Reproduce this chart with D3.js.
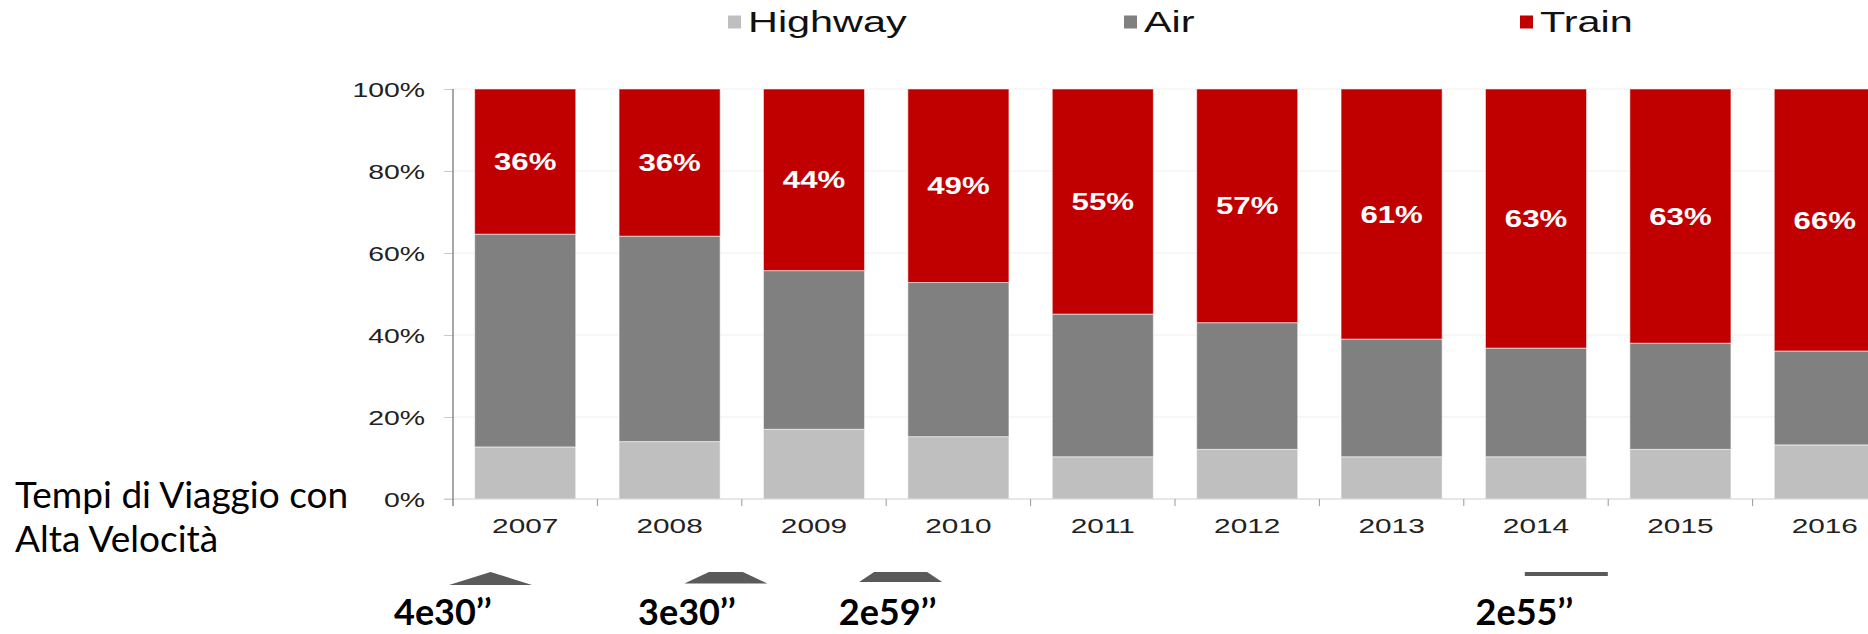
<!DOCTYPE html>
<html lang="it">
<head>
  <meta charset="UTF-8">
  <title>Highway / Air / Train</title>
  <script src="https://d3js.org/d3.v7.min.js"></script>
  <style>
    body { margin: 0; background: #fff; }
    svg text { font-family: Arial, "Liberation Sans", sans-serif; }
    svg text.note { font-family: Lato, "Open Sans", sans-serif; }
  </style>
</head>
<body>
  <svg id="chart" width="1868" height="634"></svg>

  <script>
    const years = ["2007", "2008", "2009", "2010", "2011", "2012", "2013", "2014", "2015", "2016"];
    const highway = [12.7, 14.0, 17.0, 15.2, 10.3, 12.1, 10.3, 10.3, 12.1, 13.2];
    const air     = [51.9, 50.1, 38.7, 37.6, 34.8, 30.9, 28.7, 26.5, 25.9, 22.9];
    const train   = [35.4, 35.9, 44.3, 47.2, 54.9, 57.0, 61.0, 63.2, 62.0, 63.9];
    const trainLabels = ["36%", "36%", "44%", "49%", "55%", "57%", "61%", "63%", "63%", "66%"];
    const yTicks = [0, 20, 40, 60, 80, 100];
    const seriesNames = ["Highway", "Air", "Train"];

    // travel times with high speed, placed in "year" units along the x axis
    const noteTimes = ["4e30’’", "3e30’’", "2e59’’", "2e55’’"];
    const noteAt  = [2006.43, 2008.12, 2009.51, 2013.92];
    const slopeAt = [2006.76, 2008.39, 2009.6, 2014.21];

    // look of the little slope icons (px)
    const slopeTop = [0, 34, 53, 83];
    const slopeH = [13, 11.5, 10, 4];

    const colors = { Highway: "#bfbfbf", Air: "#808080", Train: "#c00000" };
    const SX = 1.42; // the chart picture is stretched sideways

    const W = 1868, H = 634;
    const svg = d3.select("#chart");
    svg.append("rect").attr("width", W).attr("height", H).attr("fill", "#fff");

    const x = d3.scaleBand()
      .domain(years)
      .range([453, 453 + 144.4 * years.length])
      .paddingInner(0.3)
      .paddingOuter(0.15);
    const y = d3.scaleLinear().domain([0, 100]).range([499, 89]);
    const mid = d => x(d) + x.bandwidth() / 2;
    const xYear = d3.scaleLinear()
      .domain([+years[0], +years[years.length - 1]])
      .range([mid(years[0]), mid(years[years.length - 1])]);

    function squash(sel, sx) {
      sel.each(function() {
        const t = d3.select(this);
        const tx = +t.attr("x") || 0;
        const ty = +t.attr("y") || 0;
        t.attr("x", 0).attr("y", 0).attr("transform", `translate(${tx},${ty}) scale(${sx},1)`);
      });
    }

    // grid
    svg.append("g").selectAll("line")
      .data(yTicks.filter(d => d > 0))
      .join("line")
      .attr("x1", 453).attr("x2", W)
      .attr("y1", d => y(d)).attr("y2", d => y(d))
      .attr("stroke", "#efefef");

    // y axis
    const yAxis = svg.append("g")
      .attr("transform", "translate(453,0)")
      .call(d3.axisLeft(y).tickValues(yTicks).tickFormat(d => d + "%").tickSize(9).tickPadding(19));
    yAxis.attr("font-size", 20).attr("font-family", null);
    yAxis.select(".domain").remove();
    yAxis.selectAll(".tick line").attr("stroke", "#c8c8c8");
    yAxis.selectAll(".tick text").attr("fill", "#222").attr("dy", "0.36em");
    squash(yAxis.selectAll(".tick text"), SX);

    // stacked bars
    const rows = years.map((yr, i) => ({ year: yr, Highway: highway[i], Air: air[i], Train: train[i] }));
    const stacked = d3.stack().keys(seriesNames)(rows);

    svg.append("g").selectAll("g")
      .data(stacked)
      .join("g")
      .attr("fill", d => colors[d.key])
      .selectAll("rect")
      .data(d => d)
      .join("rect")
      .attr("x", d => x(d.data.year))
      .attr("width", x.bandwidth())
      .attr("y", d => y(d[1]))
      .attr("height", d => y(d[0]) - y(d[1]))
      .attr("stroke", "rgba(255,255,255,0.55)")
      .attr("stroke-width", 1);

    // train share labels
    const trainLayer = stacked[2];
    svg.append("g").selectAll("text")
      .data(trainLayer)
      .join("text")
      .attr("x", d => mid(d.data.year))
      .attr("y", d => (y(d[0]) + y(d[1])) / 2)
      .attr("dy", "0.36em")
      .attr("text-anchor", "middle")
      .attr("font-size", 24)
      .attr("font-weight", "bold")
      .attr("fill", "#fff")
      .text((d, i) => trainLabels[i])
      .call(squash, 1.3);

    // axis lines
    svg.append("line")
      .attr("x1", 444).attr("x2", W).attr("y1", y(0)).attr("y2", y(0))
      .attr("stroke", "#cfcfcf");
    svg.append("line")
      .attr("x1", 453).attr("x2", 453).attr("y1", y(100)).attr("y2", y(0) + 7)
      .attr("stroke", "#8a8a8a").attr("stroke-width", 1.5);

    // x axis ticks between the bars and year labels
    const bounds = years.slice(1).map(yr => x(yr) - x.step() * x.paddingInner() / 2);
    svg.append("g").selectAll("line")
      .data(bounds)
      .join("line")
      .attr("x1", d => d).attr("x2", d => d)
      .attr("y1", y(0)).attr("y2", y(0) + 7)
      .attr("stroke", "#999");

    svg.append("g").selectAll("text")
      .data(years)
      .join("text")
      .attr("x", d => mid(d))
      .attr("y", 533)
      .attr("text-anchor", "middle")
      .attr("font-size", 21)
      .attr("fill", "#222")
      .text(d => d)
      .call(squash, SX);

    // legend
    const lx = d3.scalePoint().domain(seriesNames).range([728, 1520]);
    const legend = svg.append("g").selectAll("g")
      .data(seriesNames)
      .join("g")
      .attr("transform", d => `translate(${lx(d)},0)`);
    legend.append("rect")
      .attr("y", 15.5).attr("width", 13).attr("height", 13)
      .attr("fill", d => colors[d]);
    legend.append("text")
      .attr("x", 20).attr("y", 32)
      .attr("font-size", 30)
      .attr("fill", "#111")
      .text(d => d)
      .call(squash, 1.38);

    // left caption
    svg.append("text")
      .attr("class", "note")
      .attr("x", 15).attr("y", 508)
      .attr("font-size", 37)
      .attr("fill", "#000")
      .text("Tempi di Viaggio con");
    svg.append("text")
      .attr("class", "note")
      .attr("x", 15).attr("y", 552)
      .attr("font-size", 37)
      .attr("fill", "#000")
      .text("Alta Velocità");

    // slope icons
    const slopePath = (cx, i) => {
      const b = 41.5, t = slopeTop[i] / 2, top = 572, bot = 572 + slopeH[i];
      return d3.line()([[cx - b, bot], [cx - t, top], [cx + t, top], [cx + b, bot]]) + "Z";
    };
    svg.append("g").selectAll("path")
      .data(slopeAt)
      .join("path")
      .attr("d", (d, i) => slopePath(xYear(d), i))
      .attr("fill", "#5a5a5a");

    // travel time labels
    svg.append("g").selectAll("text")
      .data(noteTimes)
      .join("text")
      .attr("class", "note")
      .attr("x", (d, i) => xYear(noteAt[i]))
      .attr("y", 625)
      .attr("text-anchor", "middle")
      .attr("font-size", 36)
      .attr("font-weight", "bold")
      .attr("fill", "#000")
      .text(d => d);
  </script>
</body>
</html>
